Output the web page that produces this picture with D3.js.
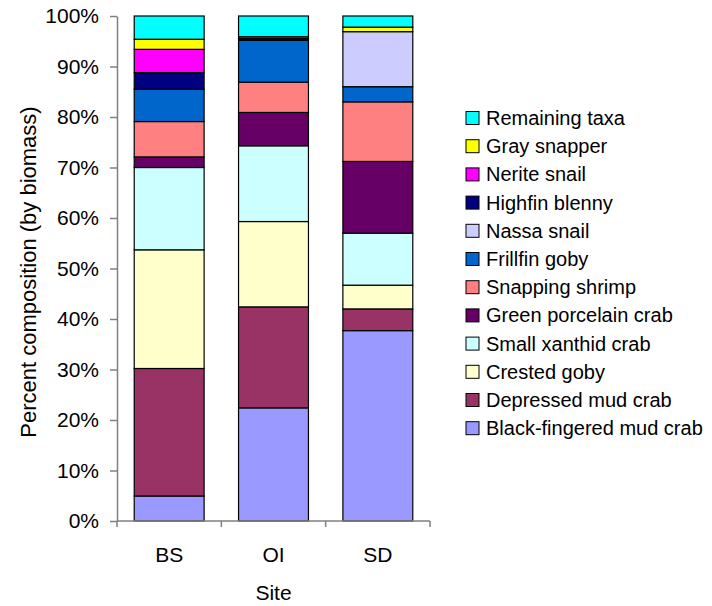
<!DOCTYPE html>
<html>
<head>
<meta charset="utf-8">
<script src="https://cdn.jsdelivr.net/npm/d3@7"></script>
<style>
  html, body { margin: 0; padding: 0; background: #fff; }
  svg { display: block; font-family: "Liberation Sans", Arial, sans-serif; }
</style>
</head>
<body>
<svg id="chart" width="712" height="606"></svg>
<script>
// Sites along the x axis
const sites = ["BS", "OI", "SD"];

// Taxa, bottom of the stack first
const taxa = [
  "Black-fingered mud crab", "Depressed mud crab", "Crested goby",
  "Small xanthid crab", "Green porcelain crab", "Snapping shrimp",
  "Frillfin goby", "Nassa snail", "Highfin blenny", "Nerite snail",
  "Gray snapper", "Remaining taxa"
];

// Percent composition by biomass, one value per site (BS, OI, SD)
const blackFingeredMudCrab = [4.95, 22.4, 37.7];
const depressedMudCrab     = [25.25, 20.0, 4.3];
const crestedGoby          = [23.5, 16.9, 4.7];
const smallXanthidCrab     = [16.3, 15.0, 10.3];
const greenPorcelainCrab   = [2.1, 6.6, 14.2];
const snappingShrimp       = [7.0, 6.0, 11.8];
const frillfinGoby         = [6.4, 8.3, 3.0];
const nassaSnail           = [0, 0, 10.9];
const highfinBlenny        = [3.3, 0.4, 0];
const neriteSnail          = [4.6, 0, 0];
const graySnapper          = [2.0, 0.3, 0.9];
const remainingTaxa        = [4.6, 4.1, 2.2];

const yTicks = [0, 0.1, 0.2, 0.3, 0.4, 0.5, 0.6, 0.7, 0.8, 0.9, 1.0];

const colors = [
  "#9999FF", "#993366", "#FFFFCC", "#CCFFFF", "#660066", "#FF8080",
  "#0066CC", "#CCCCFF", "#000080", "#FF00FF", "#FFFF00", "#00FFFF"
];

const seriesValues = [
  blackFingeredMudCrab, depressedMudCrab, crestedGoby, smallXanthidCrab,
  greenPorcelainCrab, snappingShrimp, frillfinGoby, nassaSnail,
  highfinBlenny, neriteSnail, graySnapper, remainingTaxa
];

// Table of rows keyed by taxon for d3.stack
const rows = sites.map((s, i) => {
  const r = { site: s };
  taxa.forEach((t, k) => { r[t] = seriesValues[k][i]; });
  return r;
});

const svg = d3.select("#chart");
const plot = { left: 117, right: 430, top: 16, bottom: 521 };

const x = d3.scaleBand()
  .domain(sites)
  .range([plot.left, plot.right])
  .paddingInner(0.33)
  .paddingOuter(0.165);

const y = d3.scaleLinear().domain([0, 1]).range([plot.bottom, plot.top]);

const color = d3.scaleOrdinal().domain(taxa).range(colors);

const stacked = d3.stack()
  .keys(taxa)
  .offset(d3.stackOffsetExpand)(rows);

// Bars
const layers = svg.append("g").selectAll("g")
  .data(stacked)
  .join("g")
  .attr("fill", d => color(d.key));

layers.selectAll("rect")
  .data(d => d.filter(p => p[1] - p[0] > 0))
  .join("rect")
  .attr("x", d => x(d.data.site))
  .attr("width", x.bandwidth())
  .attr("y", d => y(d[1]))
  .attr("height", d => y(d[0]) - y(d[1]))
  .attr("stroke", "#000")
  .attr("stroke-width", 1.2);

// Y axis
const yAxis = svg.append("g")
  .attr("transform", `translate(${plot.left},0)`)
  .call(d3.axisLeft(y)
    .tickValues(yTicks)
    .tickFormat(d3.format(".0%"))
    .tickSize(7)
    .tickSizeOuter(0)
    .tickPadding(11));
yAxis.select(".domain").attr("stroke", "#808080").attr("stroke-width", 1.5);
yAxis.selectAll(".tick line").attr("stroke", "#808080").attr("stroke-width", 1.5);
yAxis.selectAll(".tick text")
  .attr("fill", "#000")
  .style("font-size", "21px")
  .style("font-family", "Liberation Sans, Arial, sans-serif");

// X axis: baseline with ticks between categories
const xAxis = svg.append("g");
xAxis.append("line")
  .attr("x1", plot.left).attr("x2", plot.right)
  .attr("y1", plot.bottom).attr("y2", plot.bottom)
  .attr("stroke", "#808080").attr("stroke-width", 1.5);
const step = x.step();
const boundaries = d3.range(sites.length + 1).map(i => plot.left + i * step);
xAxis.selectAll("line.sep")
  .data(boundaries)
  .join("line")
  .attr("class", "sep")
  .attr("x1", d => d).attr("x2", d => d)
  .attr("y1", plot.bottom).attr("y2", plot.bottom + 6)
  .attr("stroke", "#808080").attr("stroke-width", 1.5);
xAxis.selectAll("text")
  .data(sites)
  .join("text")
  .attr("x", d => x(d) + x.bandwidth() / 2)
  .attr("y", 562)
  .attr("text-anchor", "middle")
  .style("font-size", "21px")
  .text(d => d);

// Axis titles
svg.append("text")
  .attr("x", (plot.left + plot.right) / 2)
  .attr("y", 600)
  .attr("text-anchor", "middle")
  .style("font-size", "21px")
  .text("Site");

svg.append("text")
  .attr("transform", "translate(36,272) rotate(-90)")
  .attr("text-anchor", "middle")
  .style("font-size", "22px")
  .text("Percent composition (by biomass)");

// Legend, top entry is the top of the stack
const legendTaxa = taxa.slice().reverse();
const legend = svg.append("g");
const item = legend.selectAll("g")
  .data(legendTaxa)
  .join("g")
  .attr("transform", (d, i) => `translate(466,${118 + i * 28.2})`);
item.append("rect")
  .attr("x", 0).attr("y", -6.5)
  .attr("width", 13).attr("height", 13)
  .attr("fill", d => color(d))
  .attr("stroke", "#000")
  .attr("stroke-width", 1);
item.append("text")
  .attr("x", 20)
  .attr("y", 7)
  .style("font-size", "20px")
  .text(d => d);
</script>
</body>
</html>
